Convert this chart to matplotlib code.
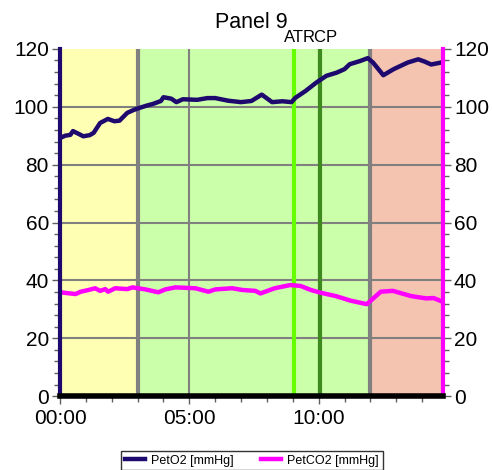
import numpy as np
import matplotlib
matplotlib.use("Agg")
import matplotlib.pyplot as plt
from matplotlib.ticker import MultipleLocator, FixedLocator
import matplotlib.transforms as mtransforms

plt.rcParams['font.family'] = ['Liberation Sans', 'DejaVu Sans']

# breath data, time in minutes
t_o2 = [0.0, 0.2, 0.4, 0.5, 0.75, 0.9, 1.15, 1.3, 1.55, 1.85, 2.1, 2.3, 2.6, 2.85,
        3.0, 3.35, 3.6, 3.9, 4.0, 4.3, 4.5, 4.75, 5.3, 5.7, 6.0, 6.5, 7.0, 7.4,
        7.8, 8.2, 8.6, 8.95, 9.1, 9.5, 9.9, 10.3, 10.7, 11.0, 11.2, 11.6, 11.9,
        12.1, 12.5, 12.9, 13.45, 13.85, 14.1, 14.35, 14.8]
pet_o2 = [89.2, 90.0, 90.3, 91.6, 90.5, 89.8, 90.2, 91.0, 94.4, 95.8, 95.0, 95.2, 97.9, 98.9,
          99.4, 100.4, 101.0, 102.0, 103.3, 102.8, 101.6, 102.6, 102.4, 103.0, 103.0, 102.1, 101.6, 102.0,
          104.2, 101.6, 101.9, 101.6, 103.1, 105.5, 108.3, 110.7, 111.8, 113.0, 114.7, 115.8, 116.8,
          115.3, 110.9, 113.0, 115.3, 116.4, 115.6, 114.6, 115.4]

t_co2 = [0.0, 0.1, 0.6, 0.8, 1.1, 1.36, 1.55, 1.75, 1.86, 2.13, 2.6, 2.8, 3.3, 3.8, 4.07,
         4.46, 5.23, 5.74, 6.0, 6.66, 7.05, 7.55, 7.75, 8.3, 8.9, 9.3, 9.7, 10.1,
         10.66, 11.24, 11.86, 12.4, 12.87, 13.57, 14.15, 14.45, 14.8]
pet_co2 = [36.0, 35.8, 35.3, 36.1, 36.7, 37.3, 36.4, 37.0, 36.1, 37.3, 37.0, 37.6, 36.9, 35.9, 36.9,
           37.6, 37.3, 36.1, 36.9, 37.3, 36.7, 36.4, 35.5, 37.3, 38.4, 38.1, 36.7, 35.7,
           34.6, 33.0, 31.8, 36.1, 36.4, 34.6, 33.8, 33.9, 32.6]

phases = [(0, 3, '#FFFFB4'), (3, 12, '#CCFFAA'), (12, 14.8, '#F4C4B0')]
markers = [('AT', 9.05, '#66FF00'), ('RCP', 10.05, '#3F8A1F')]
x_ticks = [0, 5, 10]
x_labels = ['00:00', '05:00', '10:00']

NAVY = '#1E0A6E'
MAGENTA = '#FF00FF'

fig = plt.figure(figsize=(4.92, 4.70), dpi=100)
ax = fig.add_axes([0.122, 0.157, 0.778, 0.739])

for x0, x1, c in phases:
    ax.axvspan(x0, x1, color=c, lw=0, zorder=0)

ax.set_xlim(0, 14.8)
ax.set_ylim(0, 120)

# grid
for y in [20, 40, 60, 80, 100]:
    ax.axhline(y, color='#808080', lw=1.5, zorder=1)
for x in [5, 10]:
    ax.axvline(x, color='#808080', lw=1.5, zorder=1)

# phase boundaries and thresholds
for x in [3, 12]:
    ax.axvline(x, color='#808080', lw=3, zorder=2)
trans = mtransforms.blended_transform_factory(ax.transData, ax.transAxes)
for name, x, c in markers:
    ax.axvline(x, color=c, lw=3, zorder=2)
    ax.text(x, 1.012, name, transform=trans, ha='center', va='bottom', fontsize=12)

ax.plot(t_o2, pet_o2, color=NAVY, lw=3.2, zorder=3, label='PetO2 [mmHg]')
ax.plot(t_co2, pet_co2, color=MAGENTA, lw=3.2, zorder=3, label='PetCO2 [mmHg]')

ax.spines['top'].set_visible(False)
ax.spines['left'].set_color(NAVY)
ax.spines['left'].set_linewidth(3)
ax.spines['right'].set_color(MAGENTA)
ax.spines['right'].set_linewidth(3)
ax.spines['bottom'].set_color('black')
ax.spines['bottom'].set_linewidth(4)
for s in ax.spines.values():
    s.set_zorder(4)

ax.xaxis.set_major_locator(FixedLocator(x_ticks))
ax.set_xticklabels(x_labels)
ax.xaxis.set_minor_locator(MultipleLocator(1))
ax.yaxis.set_major_locator(MultipleLocator(20))
ax.yaxis.set_minor_locator(MultipleLocator(4))
ax.tick_params(axis='both', which='major', labelsize=15, color='#606060',
               length=6, width=1, direction='out')
ax.tick_params(axis='both', which='minor', color='#606060', length=4, width=1,
               direction='out')
ax.tick_params(axis='y', which='both', left=True, right=True, labelright=True, pad=2)
ax.tick_params(axis='x', which='major', pad=3)

ax.set_title('Panel 9', fontsize=15.5, pad=15)

fig.legend(loc='lower center', bbox_to_anchor=(0.512, -0.014), ncol=2,
           fontsize=9, frameon=True, fancybox=False, edgecolor='black',
           handlelength=1.6, handletextpad=0.5, columnspacing=2.2,
           borderpad=0.3)

fig.savefig('out.png', dpi=100)
